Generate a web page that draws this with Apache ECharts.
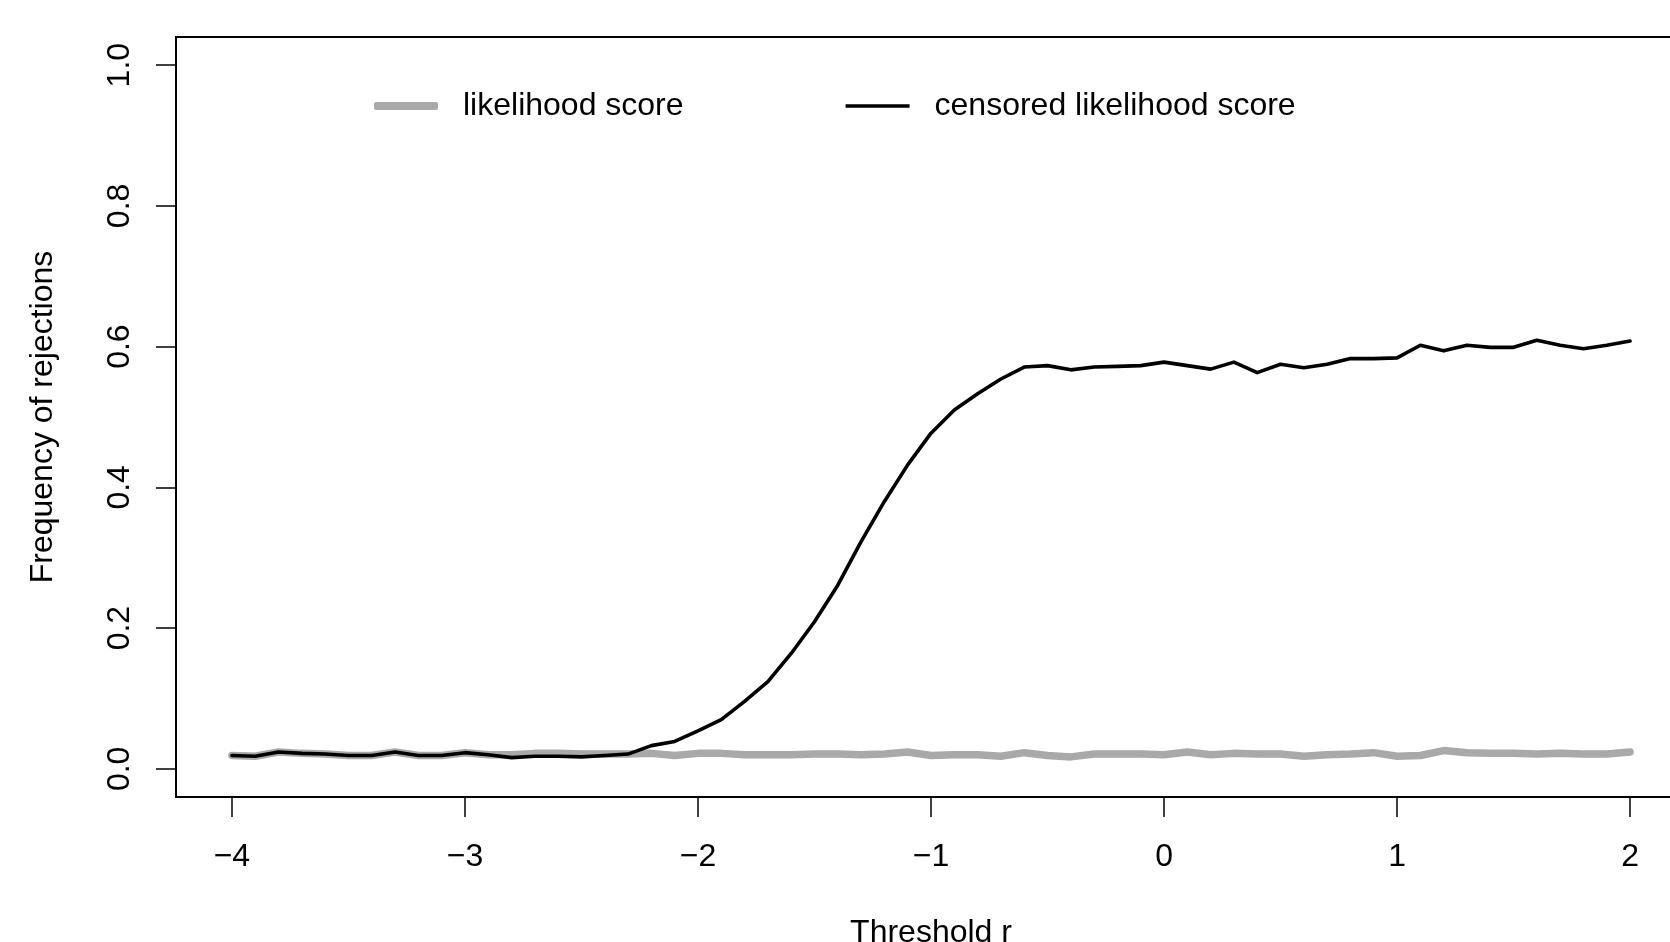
<!DOCTYPE html>
<html>
<head>
<meta charset="utf-8">
<script src="https://cdn.jsdelivr.net/npm/echarts@6/dist/echarts.min.js"></script>
<style>
  html, body { margin: 0; padding: 0; background: #fff; overflow: hidden; }
  #chart { width: 1670px; height: 942px; }
</style>
</head>
<body>
<div id="chart"></div>
<script>
const thresholds = [-4.0,-3.9,-3.8,-3.7,-3.6,-3.5,-3.4,-3.3,-3.2,-3.1,-3.0,-2.9,-2.8,-2.7,-2.6,-2.5,-2.4,-2.3,
  -2.2,-2.1,-2.0,-1.9,-1.8,-1.7,-1.6,-1.5,-1.4,-1.3,-1.2,-1.1,-1.0,-0.9,-0.8,-0.7,-0.6,-0.5,-0.4,-0.3,-0.2,-0.1,
  0.0,0.1,0.2,0.3,0.4,0.5,0.6,0.7,0.8,0.9,1.0,1.1,1.2,1.3,1.4,1.5,1.6,1.7,1.8,1.9,2.0];

const likelihoodScore = [0.019,0.018,0.024,0.022,0.021,0.019,0.019,0.024,0.019,0.019,0.023,0.020,
  0.020,0.022,0.022,0.021,0.021,0.021,
  0.022,0.019,0.022,0.022,0.020,0.020,0.020,0.021,0.021,0.020,0.021,0.024,0.019,0.020,0.020,0.018,0.023,0.019,0.017,0.021,0.021,0.021,
  0.020,0.024,0.020,0.022,0.021,0.021,0.018,0.020,0.021,0.023,0.018,0.019,0.026,0.023,0.022,0.022,0.021,0.022,0.021,0.021,0.024];

const censoredScore = [0.019,0.018,0.024,0.022,0.021,0.019,0.019,0.024,0.019,0.019,0.023,0.020,
  0.016,0.018,0.018,0.017,0.019,0.021,
  0.033,0.039,0.054,0.070,0.096,0.124,0.164,0.209,0.261,0.323,0.380,0.432,0.477,0.510,0.533,0.554,0.571,0.573,0.567,0.571,0.572,0.573,
  0.578,0.573,0.568,0.578,0.563,0.575,0.570,0.575,0.583,0.583,0.584,0.602,0.594,0.602,0.599,0.599,0.609,0.602,0.597,0.602,0.608];

const xTicks = [-4, -3, -2, -1, 0, 1, 2];
const yTicks = [0, 0.2, 0.4, 0.6, 0.8, 1.0];
const seriesNames = ['likelihood score', 'censored likelihood score'];

const FONT = "'Liberation Sans', Arial, Helvetica, sans-serif";
const FS = 32;

const pairs = (ys) => thresholds.map((x, i) => [x, ys[i]]);

const chart = echarts.init(document.getElementById('chart'), null, { renderer: 'canvas' });
chart.setOption({
  animation: false,
  backgroundColor: '#ffffff',
  textStyle: { fontFamily: FONT, color: '#000' },
  grid: {
    left: 176, top: 37, width: 1510, height: 760,
    show: true, borderColor: '#000', borderWidth: 2, backgroundColor: 'transparent',
    containLabel: false, outerBoundsMode: 'none'
  },
  legend: {
    left: 369, top: 85,
    itemWidth: 64, itemHeight: 8, itemGap: 162,
    icon: 'roundRect',
    selectedMode: false,
    textStyle: { fontFamily: FONT, fontSize: FS, color: '#000', padding: [0, 0, 0, 20] },
    data: [
      { name: seriesNames[0], itemStyle: { color: '#a9a9a9' } },
      { name: seriesNames[1], icon: 'path://M0,0 L64,0 L64,3.6 L0,3.6 Z', itemStyle: { color: '#000' } }
    ]
  },
  xAxis: {
    type: 'value', min: -4.24, max: 2.24,
    name: 'Threshold r', nameLocation: 'middle', nameGap: 120,
    nameTextStyle: { fontFamily: FONT, fontSize: FS, color: '#000' },
    axisLine: { show: false, onZero: false },
    splitLine: { show: false },
    axisTick: { show: true, inside: false, length: 20, customValues: xTicks, lineStyle: { color: '#000', width: 1.5 } },
    axisLabel: {
      customValues: xTicks, margin: 44, fontFamily: FONT, fontSize: FS, color: '#000',
      formatter: (v) => String(v).replace('-', '\u2212')
    }
  },
  yAxis: {
    type: 'value', min: -0.04, max: 1.04,
    name: 'Frequency of rejections', nameLocation: 'middle', nameGap: 117,
    nameTextStyle: { fontFamily: FONT, fontSize: FS, color: '#000' },
    axisLine: { show: false, onZero: false },
    splitLine: { show: false },
    axisTick: { show: true, inside: false, length: 20, customValues: yTicks, lineStyle: { color: '#000', width: 1.5 } },
    axisLabel: {
      customValues: yTicks, margin: 40, rotate: 90, fontFamily: FONT, fontSize: FS, color: '#000',
      formatter: (v) => Number(v).toFixed(1)
    }
  },
  series: [
    {
      name: seriesNames[0], type: 'line', data: pairs(likelihoodScore),
      showSymbol: false, symbol: 'none', z: 2,
      lineStyle: { color: '#a9a9a9', width: 7.5, cap: 'round', join: 'round' },
      itemStyle: { color: '#a9a9a9' }
    },
    {
      name: seriesNames[1], type: 'line', data: pairs(censoredScore),
      showSymbol: false, symbol: 'none', z: 3,
      lineStyle: { color: '#000', width: 3.6, cap: 'round', join: 'round' },
      itemStyle: { color: '#000' }
    }
  ]
});
</script>
</body>
</html>
